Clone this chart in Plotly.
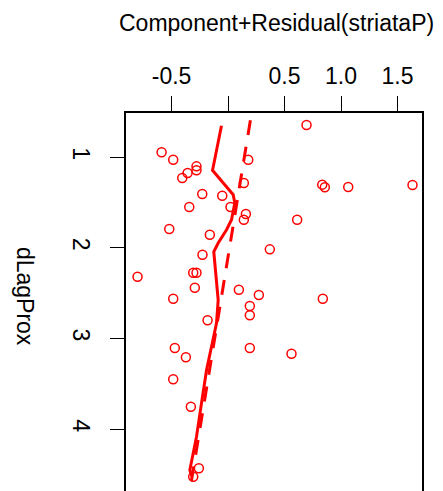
import plotly.graph_objects as go

# Component + residual values (x) against dLagProx (y)
resid_x = [-0.588, -0.485, -0.279, -0.279, -0.358, -0.405, 0.179, 0.140, -0.228, -0.051,
           -0.343, 0.022, 0.158, 0.140, -0.520, -0.161, 0.695, 0.834, 0.857, 1.064,
           1.633, 0.612, -0.226, 0.370, -0.801, -0.308, -0.279, -0.294, -0.485, 0.096,
           0.273, 0.193, 0.193, -0.181, -0.471, -0.373, 0.193, 0.839, 0.562, -0.485,
           -0.329, -0.258, -0.308]
dlag_y = [0.948, 1.030, 1.103, 1.147, 1.176, 1.232, 1.030, 1.287, 1.408, 1.427,
          1.551, 1.551, 1.628, 1.691, 1.794, 1.857, 0.647, 1.305, 1.334, 1.331,
          1.309, 1.691, 2.077, 2.018, 2.320, 2.276, 2.276, 2.441, 2.562, 2.463,
          2.521, 2.643, 2.745, 2.800, 3.106, 3.208, 3.106, 2.562, 3.169, 3.451,
          3.753, 4.432, 4.525]

# Smoothed (lowess) curve
smooth_x = [-0.058, -0.137, -0.042, 0.046, 0.060, 0.031, -0.013, -0.087, -0.126,
            -0.108, -0.087, -0.102, -0.146, -0.190, -0.235, -0.279, -0.338, -0.32]
smooth_y = [0.655, 1.147, 1.287, 1.416, 1.507, 1.691, 1.802, 1.948, 2.044,
            2.282, 2.577, 2.834, 3.092, 3.348, 3.716, 4.084, 4.451, 4.52]

# Linear fit: x = intercept + slope * y
fit_intercept = 0.276
fit_slope = -0.1313
fit_y = [0.3, 4.9]
fit_x = [fit_intercept + fit_slope * v for v in fit_y]

x_tickvals = [-0.5, 0.0, 0.5, 1.0, 1.5]
x_ticktext = ["-0.5", "", "0.5", "1.0", "1.5"]
y_tickvals = [1, 2, 3, 4]
y_ticktext = ["1", "2", "3", "4"]

RED = "#FF0000"
FONT = "Liberation Sans, Arial, Helvetica, sans-serif"
FS = 23

fig = go.Figure()
fig.add_trace(go.Scatter(x=fit_x, y=fit_y, mode="lines",
                         line=dict(color=RED, width=3, dash="15px,12px"),
                         hoverinfo="skip", showlegend=False))
fig.add_trace(go.Scatter(x=smooth_x, y=smooth_y, mode="lines",
                         line=dict(color=RED, width=3),
                         hoverinfo="skip", showlegend=False))
fig.add_trace(go.Scatter(x=resid_x, y=dlag_y, mode="markers",
                         marker=dict(symbol="circle-open", size=9, color=RED,
                                     line=dict(color=RED, width=1.5)),
                         showlegend=False))

fig.update_layout(
    width=435, height=483,
    margin=dict(l=118, r=21, t=105, b=0, pad=0),
    paper_bgcolor="white", plot_bgcolor="white",
    font=dict(family=FONT, size=FS, color="black"),
    xaxis=dict(side="top", range=[-0.903, 1.717], tickvals=x_tickvals, ticktext=x_ticktext,
               ticks="outside", ticklen=15, tickwidth=1, tickcolor="black",
               showline=True, linecolor="black", linewidth=1.5, mirror=False,
               showgrid=False, zeroline=False, ticklabelstandoff=3,
               tickfont=dict(size=FS)),
    yaxis=dict(range=[4.682, 0.515], tickvals=y_tickvals, ticktext=y_ticktext,
               ticks="outside", ticklen=14, tickwidth=1, tickcolor="black",
               showline=True, linecolor="black", linewidth=1.5, mirror=True,
               showgrid=False, zeroline=False, tickangle=90, ticklabelstandoff=10,
               tickfont=dict(size=FS)),
    annotations=[
        dict(text="Component+Residual(striataP)", x=0.508, y=1.238, xref="paper", yref="paper",
             xanchor="center", yanchor="middle", showarrow=False, font=dict(size=FS)),
        dict(text="dLagProx", x=-0.341, y=0.516, xref="paper", yref="paper",
             xanchor="center", yanchor="middle", showarrow=False, textangle=90,
             font=dict(size=FS)),
    ],
)

fig.write_html("out.html")
